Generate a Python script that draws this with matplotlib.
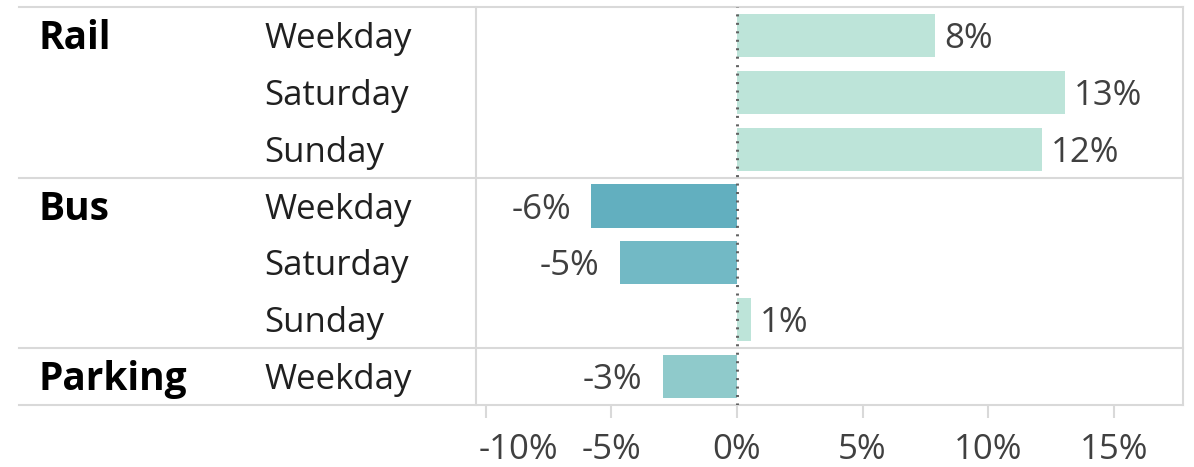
import matplotlib.pyplot as plt
from matplotlib.transforms import blended_transform_factory, ScaledTranslation

# data
groups = ['Rail', 'Bus', 'Parking']
group_sizes = [3, 3, 1]
days = ['Weekday', 'Saturday', 'Sunday',
        'Weekday', 'Saturday', 'Sunday',
        'Weekday']
change = [7.9, 13.05, 12.15, -5.8, -4.65, 0.55, -2.95]
value_labels = ['8%', '13%', '12%', '-6%', '-5%', '1%', '-3%']
tick_values = [-10, -5, 0, 5, 10, 15]

bar_colors = ['#bde4d9', '#bde4d9', '#bde4d9',
              '#62afbf', '#72b9c5', '#bde4d9', '#8fcacb']

plt.rcParams['font.family'] = ['Open Sans', 'DejaVu Sans']
grid_col = '#d9d9d9'
text_col = '#404040'
fs = 25
fs_group = 28
base_off = 0.22  # baseline below row centre, in rows

fig = plt.figure(figsize=(11.94, 4.67), dpi=100)
ax = fig.add_axes([476 / 1194, 62 / 467, 707 / 1194, 398 / 467])

rows = list(range(len(days)))
ax.barh(rows, change, height=0.76, color=bar_colors, zorder=2)
ax.set_xlim(-10.38, 17.75)
ax.set_ylim(len(days) - 0.5, -0.5)

# zero line
ax.axvline(0, color='#606060', lw=2.1, linestyle=(0, (0.7, 2.2)), zorder=3)

# value labels
for r, v, lab in zip(rows, change, value_labels):
    if v >= 0:
        ax.annotate(lab, (v, r + base_off), xytext=(6.5, 0), textcoords='offset points',
                    ha='left', va='baseline', fontsize=fs, color=text_col)
    else:
        ax.annotate(lab, (v, r + base_off), xytext=(-14.5, 0), textcoords='offset points',
                    ha='right', va='baseline', fontsize=fs, color=text_col)

# group separators running out to the left
sep_rows = [-0.5]
acc = -0.5
for n in group_sizes:
    acc += n
    sep_rows.append(acc)
x0 = (19 - 476) / 707
for y in sep_rows:
    ax.axhline(y, xmin=x0, xmax=1, color=grid_col, lw=1.5, clip_on=False, zorder=1)

# row and group labels
trans = blended_transform_factory(fig.transFigure, ax.transData)
start = 0
for g, n in zip(groups, group_sizes):
    ax.text(38 / 1194, start + base_off + 0.02, g, transform=trans, ha='left', va='baseline',
            fontsize=fs_group, fontweight='bold', color='black')
    start += n
for r, d in zip(rows, days):
    ax.text(264 / 1194, r + base_off, d, transform=trans, ha='left', va='baseline',
            fontsize=fs, color='#202020')

ax.set_yticks([])
ax.set_xticks(tick_values)
ax.set_xticklabels([f'{t}%' for t in tick_values], fontsize=fs, color=text_col)
ax.tick_params(axis='x', length=9.5, width=1.5, color=grid_col, pad=11)
# first tick label sits just right of its tick in the reference
first = ax.get_xticklabels()[0]
first.set_horizontalalignment('left')
first.set_transform(first.get_transform() + ScaledTranslation(-5 / 72, 0, fig.dpi_scale_trans))
for side in ['top', 'bottom']:
    ax.spines[side].set_visible(False)
for side in ['left', 'right']:
    ax.spines[side].set_color(grid_col)
    ax.spines[side].set_linewidth(1.5)

fig.savefig('out.png', dpi=100)
